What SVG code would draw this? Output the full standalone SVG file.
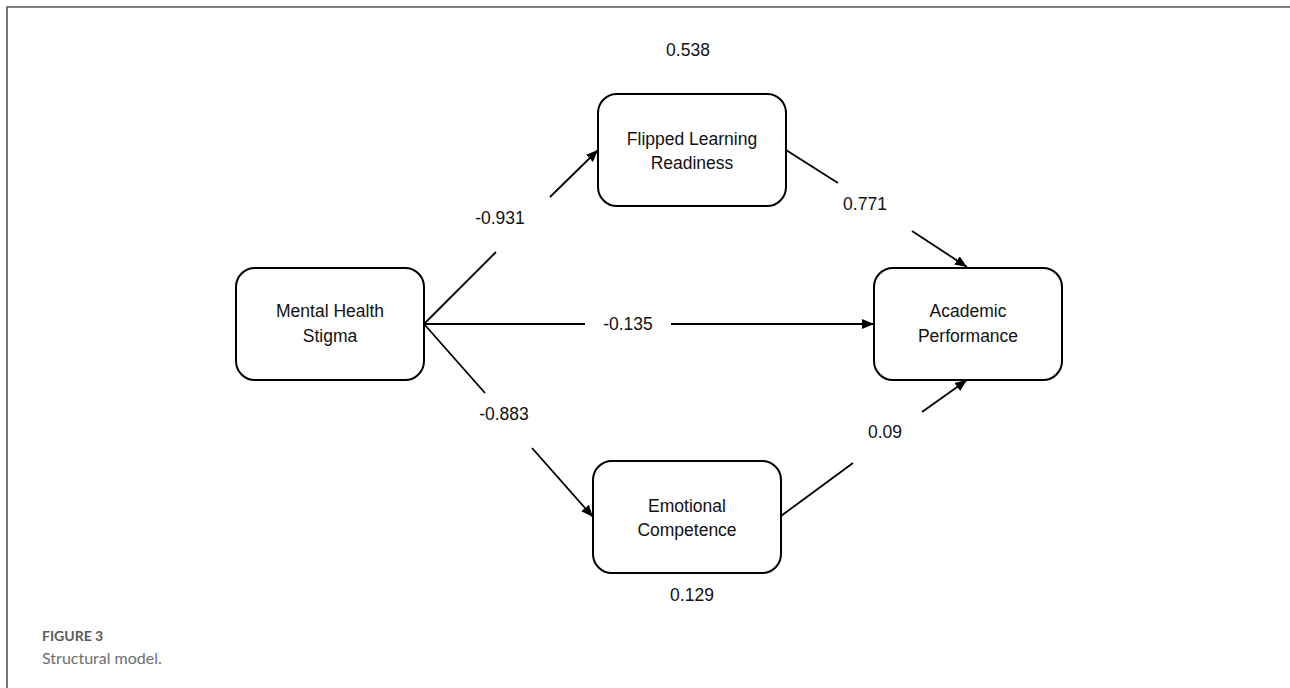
<svg xmlns="http://www.w3.org/2000/svg" width="1290" height="688" viewBox="0 0 1290 688">
<style>
.box{fill:#fff;stroke:#000;stroke-width:2}
.t{font-family:"Liberation Sans",Arial,sans-serif;font-size:17.5px;fill:#111;text-anchor:middle}
.ln{stroke:#000;stroke-width:1.8;fill:none}
.frame{stroke:#555;stroke-width:1.6;fill:none}
</style>
<defs>
<marker id="ah" markerUnits="userSpaceOnUse" markerWidth="13" markerHeight="11" refX="12" refY="5" orient="auto">
<path d="M0,0 L12,5 L0,10 z" fill="#000"/>
</marker>
</defs>
<rect width="1290" height="688" fill="#fff"/>
<path class="frame" d="M7,688 L7,7 L1290,7"/>
<g id="connectors">
<line class="ln" x1="424" y1="324" x2="496" y2="252"/>
<line class="ln" x1="550" y1="197" x2="598" y2="150" marker-end="url(#ah)"/>
<line class="ln" x1="424" y1="324" x2="585" y2="324"/>
<line class="ln" x1="671" y1="324" x2="874" y2="324" marker-end="url(#ah)"/>
<line class="ln" x1="424" y1="324" x2="485" y2="393"/>
<line class="ln" x1="532" y1="448" x2="593" y2="517" marker-end="url(#ah)"/>
<line class="ln" x1="786" y1="150" x2="838" y2="183"/>
<line class="ln" x1="912" y1="231" x2="967" y2="267" marker-end="url(#ah)"/>
<line class="ln" x1="781" y1="516" x2="853" y2="463"/>
<line class="ln" x1="922" y1="412" x2="967" y2="380" marker-end="url(#ah)"/>
<text class="t" x="500" y="224">-0.931</text>
<text class="t" x="628" y="330">-0.135</text>
<text class="t" x="504" y="420">-0.883</text>
<text class="t" x="865" y="210">0.771</text>
<text class="t" x="885" y="438">0.09</text>
</g>
<g id="flipped">
<rect class="box" x="598" y="94" width="188" height="112" rx="19"/>
<text class="t" x="692" y="145">Flipped Learning</text>
<text class="t" x="692" y="169">Readiness</text>
<text class="t" x="688" y="56">0.538</text>
</g>
<g id="mental">
<rect class="box" x="236" y="268" width="188" height="112" rx="19"/>
<text class="t" x="330" y="317">Mental Health</text>
<text class="t" x="330" y="342">Stigma</text>
</g>
<g id="academic">
<rect class="box" x="874" y="268" width="188" height="112" rx="19"/>
<text class="t" x="968" y="317">Academic</text>
<text class="t" x="968" y="342">Performance</text>
</g>
<g id="emotional">
<rect class="box" x="593" y="461" width="188" height="112" rx="19"/>
<text class="t" x="687" y="512">Emotional</text>
<text class="t" x="687" y="536">Competence</text>
<text class="t" x="692" y="601">0.129</text>
</g>
<g id="caption">
<text x="42" y="641" font-family="Lato,'Liberation Sans',sans-serif" font-size="14" font-weight="bold" fill="#58595b">FIGURE 3</text>
<text x="42" y="664" font-family="Lato,'Liberation Sans',sans-serif" font-size="16" fill="#6d6e71">Structural model.</text>
</g>
</svg>
